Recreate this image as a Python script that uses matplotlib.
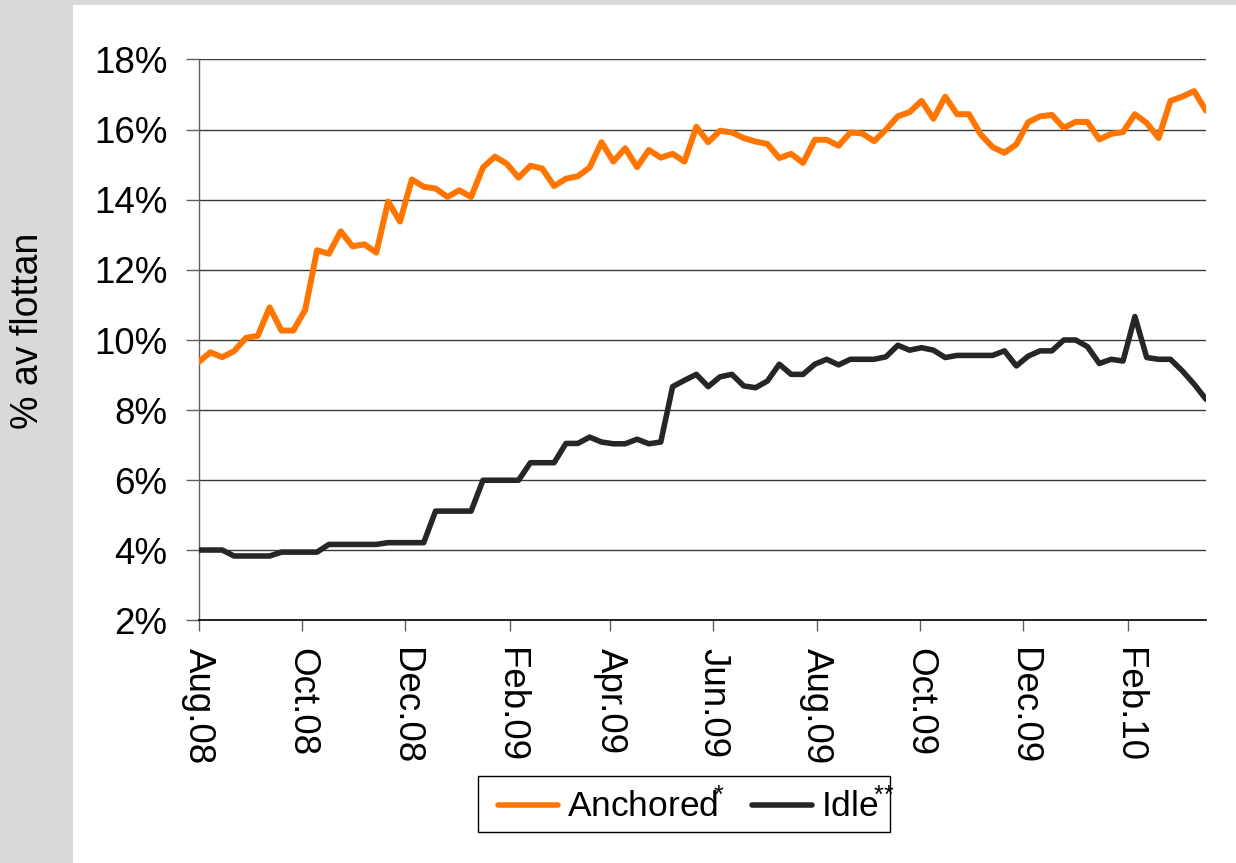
import matplotlib
matplotlib.use("Agg")
import matplotlib.pyplot as plt
from matplotlib.patches import Rectangle
from matplotlib.ticker import FuncFormatter
import pandas as pd

# ---------------- data ----------------
start_date = "2008-08-01"
n_weeks = 86
anchored = [9.37, 9.65, 9.51, 9.68, 10.06, 10.12, 10.93, 10.27, 10.27, 10.86,
            12.56, 12.46, 13.10, 12.67, 12.73, 12.49, 13.95, 13.38, 14.58, 14.37,
            14.32, 14.08, 14.27, 14.08, 14.92, 15.23, 15.03, 14.63, 14.97, 14.89,
            14.39, 14.60, 14.67, 14.92, 15.64, 15.09, 15.47, 14.93, 15.42, 15.20,
            15.31, 15.09, 16.08, 15.64, 15.97, 15.92, 15.76, 15.66, 15.59, 15.19,
            15.31, 15.05, 15.71, 15.71, 15.54, 15.92, 15.89, 15.67, 16.00, 16.38,
            16.50, 16.82, 16.31, 16.94, 16.44, 16.44, 15.86, 15.50, 15.34, 15.58,
            16.21, 16.38, 16.42, 16.05, 16.22, 16.22, 15.72, 15.88, 15.93, 16.44,
            16.19, 15.76, 16.82, 16.94, 17.10, 16.54]
idle = [4.01, 4.01, 4.01, 3.84, 3.84, 3.84, 3.84, 3.95, 3.95, 3.95,
        3.95, 4.17, 4.17, 4.17, 4.17, 4.17, 4.22, 4.22, 4.22, 4.22,
        5.12, 5.12, 5.12, 5.12, 6.00, 6.00, 6.00, 6.00, 6.50, 6.50,
        6.50, 7.05, 7.05, 7.23, 7.09, 7.04, 7.04, 7.17, 7.04, 7.09,
        8.67, 8.85, 9.02, 8.67, 8.95, 9.02, 8.69, 8.64, 8.83, 9.31,
        9.02, 9.02, 9.31, 9.45, 9.29, 9.45, 9.45, 9.45, 9.52, 9.85,
        9.71, 9.78, 9.71, 9.50, 9.56, 9.56, 9.56, 9.56, 9.69, 9.26,
        9.54, 9.69, 9.69, 10.00, 10.00, 9.81, 9.33, 9.45, 9.40, 10.67,
        9.50, 9.45, 9.45, 9.12, 8.74, 8.31]
series_labels = ["Anchored", "Idle"]
series_marks = ["{*}", "{*}{*}"]
y_ticks = [2, 4, 6, 8, 10, 12, 14, 16, 18]
x_tick_labels = ["Aug.08", "Oct.08", "Dec.08", "Feb.09", "Apr.09", "Jun.09",
                 "Aug.09", "Oct.09", "Dec.09", "Feb.10"]
y_label = "% av flottan"

dates = pd.date_range(start_date, periods=n_weeks, freq="7D")
x_ticks = pd.date_range("2008-08-01", periods=len(x_tick_labels), freq="2MS")

# ---------------- style ----------------
plt.rcParams["font.family"] = ["Liberation Sans", "DejaVu Sans"]
plt.rcParams["mathtext.fontset"] = "custom"
plt.rcParams["mathtext.rm"] = "Liberation Sans"
plt.rcParams["mathtext.it"] = "Liberation Sans:italic"
plt.rcParams["mathtext.bf"] = "Liberation Sans:bold"
FS_TICK = 26.5
FS_LEG = 25.5
FS_YLAB = 27
ORANGE = "#FF7500"
BLACK = "#262626"

W, H = 1236, 863
fig = plt.figure(figsize=(W / 100, H / 100), dpi=100)
fig.patch.set_facecolor("white")

# grey frame strips
fig.patches.append(Rectangle((0, 0), 73 / W, 1, transform=fig.transFigure,
                             facecolor="#d9d9d9", edgecolor="none", zorder=0))
fig.patches.append(Rectangle((0, 1 - 5 / H), 1, 5 / H, transform=fig.transFigure,
                             facecolor="#d9d9d9", edgecolor="none", zorder=0))

left, right = 198.5 / W, 1206 / W
top, bottom = 1 - 59.5 / H, 1 - 620.5 / H
ax = fig.add_axes([left, bottom, right - left, top - bottom])
ax.set_facecolor("white")

l1, = ax.plot(dates, anchored, color=ORANGE, lw=4.3,
              solid_joinstyle="round", solid_capstyle="round", zorder=3)
l2, = ax.plot(dates, idle, color=BLACK, lw=4.0,
              solid_joinstyle="round", solid_capstyle="round", zorder=3)

ax.set_xlim(dates[0], dates[-1])
ax.set_ylim(2, 18)
ax.set_yticks(y_ticks)
ax.yaxis.set_major_formatter(FuncFormatter(lambda v, p: f"{v:.0f}%"))
ax.set_xticks(x_ticks)
ax.set_xticklabels(x_tick_labels, rotation=-90, va="top", ha="center")

ax.grid(axis="y", color="#3a3a3a", lw=1.0, zorder=1)
ax.grid(axis="x", visible=False)
for s in ["top", "right"]:
    ax.spines[s].set_visible(False)
ax.spines["left"].set_color("#606060")
ax.spines["left"].set_linewidth(1.0)
ax.spines["bottom"].set_color("black")
ax.spines["bottom"].set_linewidth(1.2)

ax.tick_params(axis="y", direction="out", length=9.5, width=1.0, color="#606060",
               labelsize=FS_TICK, pad=13, labelcolor="black")
ax.tick_params(axis="x", direction="out", length=8, width=1.0, color="#606060",
               labelsize=FS_TICK, pad=12, labelcolor="black")

fig.text(28 / W, 1 - 331 / H, y_label, rotation=90, ha="center", va="center",
         fontsize=FS_YLAB, color="black")

# legend frame drawn separately, legend content without frame
fig.patches.append(Rectangle((478 / W, 1 - 832 / H), 412 / W, 56 / H,
                             transform=fig.transFigure, facecolor="white",
                             edgecolor="black", lw=1.0, zorder=4))
legend_labels = [f"{lab}$\\!^{{{m}}}$" for lab, m in zip(series_labels, series_marks)]
leg = fig.legend([l1, l2], legend_labels, loc="center",
                 bbox_to_anchor=(696 / W, 1 - 806 / H), ncol=2, frameon=False,
                 fontsize=FS_LEG, handlelength=1.7, handletextpad=0.25,
                 columnspacing=0.75, borderpad=0, borderaxespad=0)
leg.set_zorder(5)
for lh in leg.get_lines():
    lh.set_linewidth(4.0)
    lh.set_solid_capstyle("round")

fig.savefig("out.png", dpi=100, facecolor=fig.get_facecolor())
